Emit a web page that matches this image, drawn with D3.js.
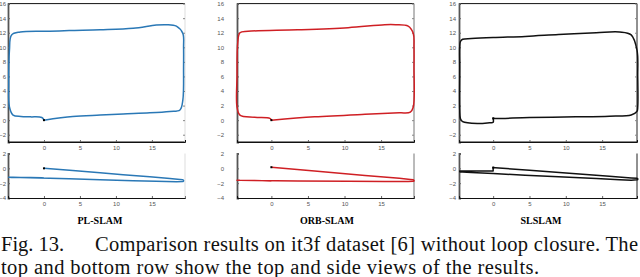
<!DOCTYPE html>
<html><head><meta charset="utf-8">
<script src="https://cdn.jsdelivr.net/npm/d3@7/dist/d3.min.js"></script>
<style>
html,body{margin:0;padding:0;background:#fff;}
svg{display:block;}
</style></head>
<body>
<svg id="chart" width="640" height="277"></svg>
<script>
// ---- data ----
const methods = ["PL-SLAM", "ORB-SLAM", "SLSLAM"];
const xTicks = [0, 5, 10, 15];
const topYTicks = [-2, 0, 2, 4, 6, 8, 10, 12, 14, 16];
const sideYTicks = [-4, -2, 0, 2];

// PL-SLAM trajectory (x, y top view, z side view)
const plX = [0, 4, 7.8, 11, 14.7, 17.5, 18.9, 19.3, 19.4, 19.4, 19.3, 18.4, 17, 15.6, 12.4, 7.8, 3.5, 0.8, -3.3, -4.5, -4.8, -4.9, -4.8, -4.3, -3.2, -1.9, -0.3, 0];
const plY = [0, 0.5, 0.7, 0.85, 1.0, 1.2, 1.4, 2.75, 7.3, 10, 11.9, 12.9, 13.1, 13.05, 12.6, 12.4, 12.3, 12.2, 12.1, 11.7, 9.6, 5, 1.8, 0.7, 0.5, 0.45, 0.37, 0.05];
const plZ = [0, -0.3, -0.6, -0.85, -1.15, -1.38, -1.5, -1.55, -1.65, -1.72, -1.78, -1.8, -1.78, -1.75, -1.66, -1.53, -1.42, -1.35, -1.25, -1.22, -1.2, -1.2, -1.2, -1.2, -1.22, -1.24, -1.28, -1.3];

// ORB-SLAM trajectory
const orbX = [0, 5.9, 12.8, 17.5, 19, 19.4, 19.5, 19.5, 19.4, 18.7, 17, 15.5, 10.5, 3.6, -3.2, -4.3, -4.6, -4.7, -4.7, -4.3, -2.3, -0.2, 0];
const orbY = [0, 0.45, 0.8, 1.0, 1.1, 1.8, 7.3, 10, 11.9, 12.9, 13.1, 13.1, 12.7, 12.4, 12.2, 12.0, 10.6, 6, 1.8, 0.7, 0.4, 0.25, 0.05];
const orbZ = [0.15, -0.35, -0.95, -1.35, -1.5, -1.55, -1.65, -1.7, -1.73, -1.76, -1.77, -1.77, -1.75, -1.7, -1.64, -1.62, -1.6, -1.6, -1.6, -1.6, -1.65, -1.72, -1.72];

// SLSLAM trajectory
const slX = [0, 0.3, 5, 11.4, 16, 19, 19.8, 19.9, 19.9, 19.8, 19, 17.4, 14.2, 9, 4.4, 0, -3, -4.2, -4.5, -4.6, -4.6, -4.6, -4.5, -4.2, -2.1, -0.5, 0, 0];
const slY = [0.25, 0.23, 0.35, 0.45, 0.55, 0.7, 1.2, 1.8, 6, 9.6, 11.7, 12.1, 12.0, 11.75, 11.5, 11.35, 11.2, 11.1, 10.8, 10.1, 7.3, 1.4, 0.2, -0.2, -0.45, -0.35, -0.3, 0.25];
const slZ = [0.1, 0.08, -0.26, -0.73, -1.07, -1.29, -1.35, -1.4, -1.5, -1.55, -1.6, -1.53, -1.38, -1.13, -0.92, -0.71, -0.57, -0.51, -0.5, -0.45, -0.4, -0.35, -0.35, -0.35, -0.35, -0.35, -0.35, 0.1];

const captionLine1a = "Fig. 13.";
const captionLine1b = "Comparison results on it3f dataset [6] without loop closure. The";
const captionLine2 = "top and bottom row show the top and side views of the results.";

// ---- layout (positions / styles) ----
const panels = [
  {name: methods[0], xs: plX, ys: plY, zs: plZ, color: "#2a78b6", xr: [8, 185], xd: [-5, 19.6], labOff: 2, rightCol: "#ddd"},
  {name: methods[1], xs: orbX, ys: orbY, zs: orbZ, color: "#cf1f24", xr: [237, 414], xd: [-4.7, 19.5], labOff: 13, rightCol: "#777"},
  {name: methods[2], xs: slX, ys: slY, zs: slZ, color: "#111", xr: [459, 637], xd: [-4.7, 19.8], labOff: 3, rightCol: "#222"}
];
const titleX = [100, 327, 541];
const topR = [142, 3.6], topD = [-3, 16];
const sideR = [198, 153.5], sideD = [-4, 2];

const svg = d3.select("#chart");

panels.forEach((p, i) => {
  const x = d3.scaleLinear().domain(p.xd).range(p.xr);
  const yT = d3.scaleLinear().domain(topD).range(topR);
  const yS = d3.scaleLinear().domain(sideD).range(sideR);
  const pts = p.xs.map((v, k) => ({x: v, y: p.ys[k], z: p.zs[k]}));

  // ---- top view ----
  const gT = svg.append("g");
  gT.append("line").attr("x1", p.xr[0]).attr("x2", p.xr[1]).attr("y1", topR[1]).attr("y2", topR[1]).attr("stroke", "#111").attr("stroke-width", 1);
  gT.append("line").attr("x1", p.xr[0]).attr("x2", p.xr[1]).attr("y1", topR[0]).attr("y2", topR[0]).attr("stroke", "#111").attr("stroke-width", 1);
  gT.append("line").attr("x1", p.xr[1]).attr("x2", p.xr[1]).attr("y1", topR[1]).attr("y2", topR[0]).attr("stroke", p.rightCol).attr("stroke-width", 1);
  const axL = d3.axisLeft(yT).tickValues(topYTicks).tickSize(-2).tickPadding(p.labOff).tickFormat(d3.format("d"));
  const gl = gT.append("g").attr("transform", `translate(${p.xr[0]},0)`).call(axL);
  const axB = d3.axisBottom(x).tickValues(xTicks).tickSize(-2).tickPadding(4);
  const gb = gT.append("g").attr("transform", `translate(0,${topR[0]})`).call(axB);
  const axR = d3.axisRight(yT).tickValues(topYTicks).tickSize(-2).tickFormat("");
  const gr = gT.append("g").attr("transform", `translate(${p.xr[1]},0)`).call(axR);
  gr.select(".domain").remove();
  gr.selectAll(".tick line").attr("stroke", "#888");
  [gl, gb].forEach(g => {
    g.selectAll("text").attr("font-family", "Liberation Sans, Arial, sans-serif").attr("font-size", 6).attr("fill", "#555");
    g.selectAll(".tick line").attr("stroke", "#666");
  });
  gl.select(".domain").attr("stroke", "#555").attr("stroke-width", 1.8);
  gb.select(".domain").attr("stroke", "#111");

  const lineT = d3.line().x(d => x(d.x)).y(d => yT(d.y)).curve(d3.curveCatmullRom.alpha(0.5));
  gT.append("path").datum(pts).attr("d", lineT).attr("fill", "none").attr("stroke", p.color).attr("stroke-width", 1.5).attr("stroke-linejoin", "round");
  gT.append("rect").attr("x", x(pts[0].x) - 1).attr("y", yT(pts[0].y) - 1).attr("width", 2).attr("height", 2).attr("fill", "#000");

  // ---- side view ----
  const gS = svg.append("g");
  const axL2 = d3.axisLeft(yS).tickValues(sideYTicks).tickSize(-2).tickPadding(p.labOff).tickFormat(d3.format("d"));
  const gl2 = gS.append("g").attr("transform", `translate(${p.xr[0]},0)`).call(axL2);
  const axB2 = d3.axisBottom(x).tickValues(xTicks).tickSize(-2).tickPadding(4);
  const gb2 = gS.append("g").attr("transform", `translate(0,${sideR[0]})`).call(axB2);
  gS.append("line").attr("x1", p.xr[1]).attr("x2", p.xr[1]).attr("y1", sideR[1]).attr("y2", sideR[0]).attr("stroke", p.rightCol).attr("stroke-width", 1);
  [gl2, gb2].forEach(g => {
    g.selectAll("text").attr("font-family", "Liberation Sans, Arial, sans-serif").attr("font-size", 6).attr("fill", "#555");
    g.selectAll(".tick line").attr("stroke", "#666");
  });
  gl2.select(".domain").attr("stroke", "#555").attr("stroke-width", 1.8);
  gb2.select(".domain").attr("stroke", "#111");

  const lineS = d3.line().x(d => x(d.x)).y(d => yS(d.z));
  gS.append("path").datum(pts).attr("d", lineS).attr("fill", "none").attr("stroke", p.color).attr("stroke-width", 1.5).attr("stroke-linejoin", "round");
  gS.append("rect").attr("x", x(pts[0].x) - 1).attr("y", yS(pts[0].z) - 1).attr("width", 2).attr("height", 2).attr("fill", "#000");

  svg.append("text").attr("x", titleX[i]).attr("y", 224).attr("text-anchor", "middle")
    .attr("font-family", "Liberation Serif, Times New Roman, serif").attr("font-weight", "bold").attr("font-size", 10)
    .text(p.name);
});

// caption
const cap = svg.append("g").attr("font-family", "Liberation Serif, Times New Roman, serif").attr("font-size", 20.5).attr("fill", "#111");
cap.append("text").attr("x", 1).attr("y", 251).text(captionLine1a);
cap.append("text").attr("x", 95).attr("y", 251).attr("textLength", 543).attr("lengthAdjust", "spacing").text(captionLine1b);
cap.append("text").attr("x", 1).attr("y", 274).attr("textLength", 538).attr("lengthAdjust", "spacing").text(captionLine2);
</script>
</body></html>
